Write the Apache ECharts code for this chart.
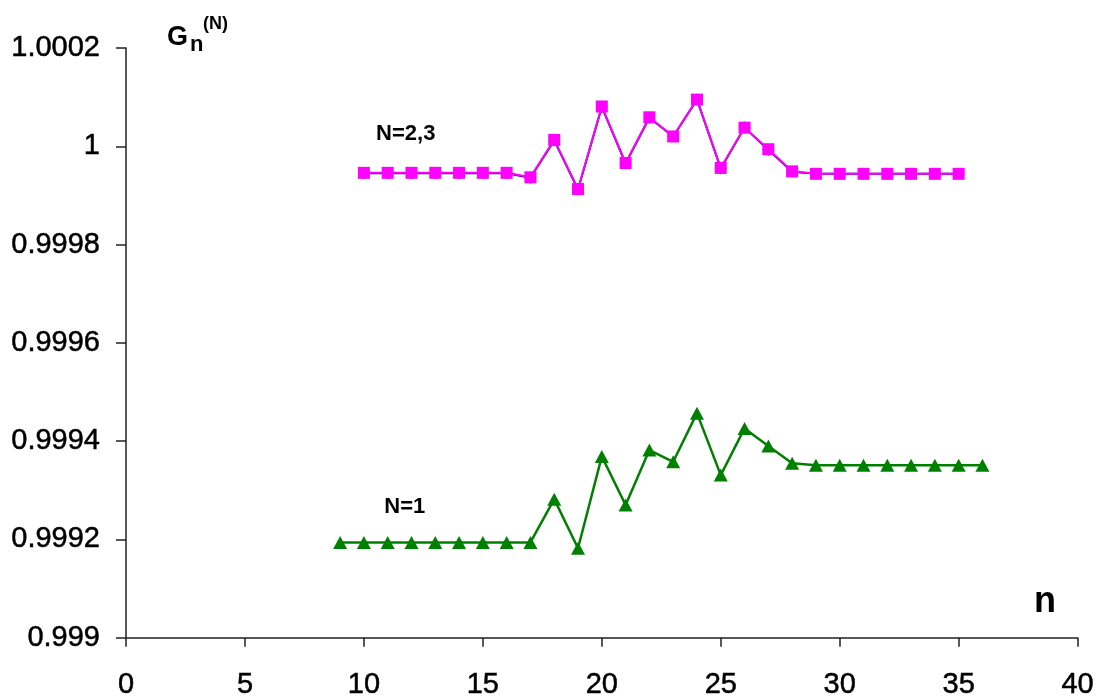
<!DOCTYPE html>
<html>
<head>
<meta charset="utf-8">
<title>G_n^(N)</title>
<script src="https://cdn.jsdelivr.net/npm/echarts@6/dist/echarts.min.js"></script>
<style>
  html, body { margin: 0; padding: 0; background: #ffffff; }
  #chart { width: 1097px; height: 700px; }
</style>
</head>
<body>
<div id="chart"></div>
<script>
// n values for each curve
const nHigh = [10, 11, 12, 13, 14, 15, 16, 17, 18, 19, 20, 21, 22, 23, 24, 25, 26, 27, 28, 29, 30, 31, 32, 33, 34, 35];
const nLow = [9, 10, 11, 12, 13, 14, 15, 16, 17, 18, 19, 20, 21, 22, 23, 24, 25, 26, 27, 28, 29, 30, 31, 32, 33, 34, 35, 36];

// G_n^(2)
const g2 = [0.999945, 0.999945, 0.999945, 0.999945, 0.999945, 0.999945, 0.999945, 0.999936, 1.000012,
  0.999912, 1.000080, 0.999965, 1.000058, 1.000020, 1.000095, 0.999955, 1.000038, 0.999993,
  0.999948, 0.999944, 0.999944, 0.999944, 0.999944, 0.999944, 0.999944, 0.999944];
// G_n^(3)
const g3 = [0.999946, 0.999946, 0.999946, 0.999946, 0.999946, 0.999946, 0.999946, 0.999937, 1.000013,
  0.999913, 1.000081, 0.999966, 1.000059, 1.000020, 1.000095, 0.999956, 1.000038, 0.999994,
  0.999949, 0.999944, 0.999944, 0.999944, 0.999944, 0.999944, 0.999944, 0.999944];
// G_n^(1)
const g1 = [0.999194, 0.999194, 0.999194, 0.999194, 0.999194, 0.999194, 0.999194, 0.999194, 0.999194,
  0.999282, 0.999182, 0.999369, 0.999270, 0.999382, 0.999358, 0.999457, 0.999331, 0.999426,
  0.999390, 0.999355, 0.999351, 0.999351, 0.999351, 0.999351, 0.999351, 0.999351, 0.999351, 0.999351];

// Curve labels and where they sit (data coordinates)
const labelHigh = 'N=2,3';
const labelHighAt = [11.76, 1.0000244];
const labelLow = 'N=1';
const labelLowAt = [11.72, 0.999266];

const xTicks = { min: 0, max: 40, interval: 5 };
const yTicks = { min: 0.999, max: 1.0002, interval: 0.0002 };

const pairs = (xs, ys) => xs.map((x, i) => [x, ys[i]]);
const FONT = '"Liberation Sans", Arial, sans-serif';

function curveLabel(text, coord) {
  return {
    silent: true,
    symbol: 'circle',
    symbolSize: 1,
    itemStyle: { color: 'rgba(0,0,0,0)' },
    label: {
      show: true, position: 'inside', formatter: text,
      fontFamily: FONT, fontWeight: 'bold', fontSize: 22, color: '#000'
    },
    data: [{ coord: coord }]
  };
}

const chart = echarts.init(document.getElementById('chart'), null, { renderer: 'canvas' });

chart.setOption({
  backgroundColor: '#ffffff',
  animation: false,
  grid: { left: 126, right: 19, top: 48, bottom: 61, containLabel: false },
  xAxis: {
    type: 'value',
    min: xTicks.min, max: xTicks.max, interval: xTicks.interval,
    axisLine: { show: true, onZero: false, lineStyle: { color: '#222', width: 1.5 } },
    axisTick: { show: true, inside: false, length: 9, lineStyle: { color: '#222', width: 1.5 } },
    axisLabel: {
      margin: 33, fontFamily: FONT, fontSize: 29, color: '#000',
      textBorderColor: '#000', textBorderWidth: 0.5
    },
    splitLine: { show: false }
  },
  yAxis: {
    type: 'value',
    min: yTicks.min, max: yTicks.max, interval: yTicks.interval,
    axisLine: { show: true, onZero: false, lineStyle: { color: '#222', width: 1.5 } },
    axisTick: { show: true, inside: false, length: 10, lineStyle: { color: '#222', width: 1.5 } },
    axisLabel: {
      margin: 26, fontFamily: FONT, fontSize: 29, color: '#000',
      textBorderColor: '#000', textBorderWidth: 0.5,
      formatter: v => String(parseFloat(v.toFixed(4)))
    },
    splitLine: { show: false }
  },
  graphic: [
    { type: 'text', left: 167, top: 24, style: { text: 'G', font: 'bold 27px ' + FONT, fill: '#000' } },
    { type: 'text', left: 190, top: 34, style: { text: 'n', font: 'bold 22px ' + FONT, fill: '#000' } },
    { type: 'text', left: 203, top: 15, style: { text: '(N)', font: 'bold 18px ' + FONT, fill: '#000' } },
    { type: 'text', left: 1034, top: 584, style: { text: 'n', font: 'bold 36px ' + FONT, fill: '#000' } }
  ],
  series: [
    {
      name: 'N=2',
      type: 'line',
      data: pairs(nHigh, g2),
      symbol: 'diamond',
      symbolSize: 12,
      itemStyle: { color: '#000080' },
      lineStyle: { color: '#000080', width: 2 },
      z: 2
    },
    {
      name: 'N=3',
      type: 'line',
      data: pairs(nHigh, g3),
      symbol: 'rect',
      symbolSize: 12,
      itemStyle: { color: '#ff00ff' },
      lineStyle: { color: '#ff00ff', width: 2 },
      markPoint: curveLabel(labelHigh, labelHighAt),
      z: 3
    },
    {
      name: 'N=1',
      type: 'line',
      data: pairs(nLow, g1),
      symbol: 'triangle',
      symbolSize: [14, 13],
      itemStyle: { color: '#008000' },
      lineStyle: { color: '#008000', width: 2.5 },
      markPoint: curveLabel(labelLow, labelLowAt),
      z: 3
    }
  ]
});
</script>
</body>
</html>
